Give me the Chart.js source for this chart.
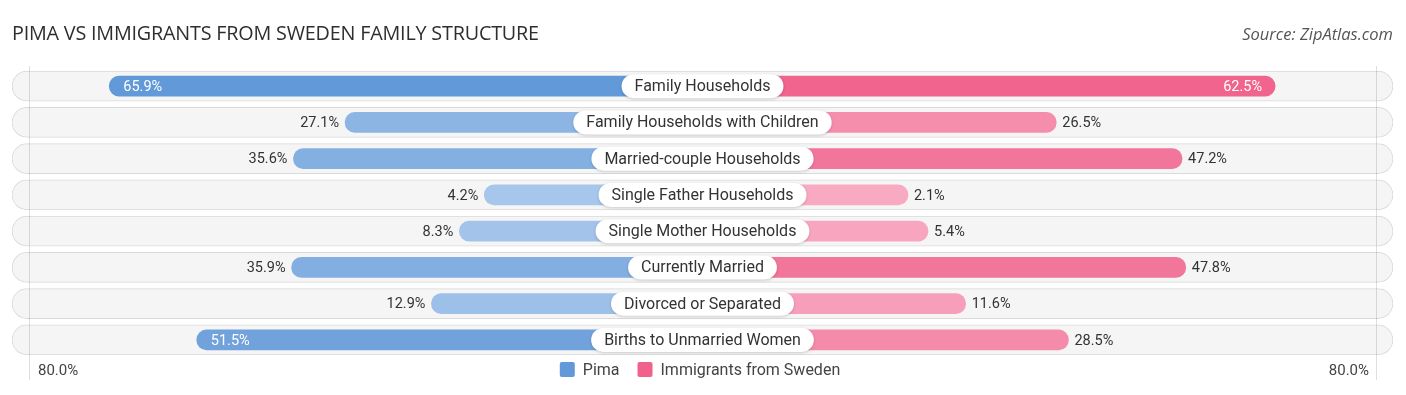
<!DOCTYPE html>
<html>
<head>
<meta charset="utf-8">
<script src="https://cdn.jsdelivr.net/npm/chart.js@4.4.1/dist/chart.umd.min.js"></script>
<style>
  html, body { margin: 0; padding: 0; background: #fff; }
  #wrap { position: relative; width: 1406px; height: 395px; overflow: hidden; }
  #title { position: absolute; left: 12px; top: 19px; font-family: "Open Sans", sans-serif; font-size: 19.8px; color: #2e2e2e; letter-spacing: -0.2px; white-space: nowrap; }
  #source { position: absolute; right: 13px; top: 22px; font-family: "Open Sans", sans-serif; font-style: italic; font-size: 16.5px; color: #555; white-space: nowrap; }
  canvas { position: absolute; left: 0; top: 0; }
</style>
</head>
<body>
<div id="wrap">
  <canvas id="c" width="1406" height="395"></canvas>
  <div id="title">PIMA VS IMMIGRANTS FROM SWEDEN FAMILY STRUCTURE</div>
  <div id="source">Source: ZipAtlas.com</div>
</div>
<script>
const categories = [
  "Family Households",
  "Family Households with Children",
  "Married-couple Households",
  "Single Father Households",
  "Single Mother Households",
  "Currently Married",
  "Divorced or Separated",
  "Births to Unmarried Women"
];
const pima   = [65.9, 27.1, 35.6, 4.2, 8.3, 35.9, 12.9, 51.5];
const sweden = [62.5, 26.5, 47.2, 2.1, 5.4, 47.8, 11.6, 28.5];
const seriesNames = ["Pima", "Immigrants from Sweden"];
const axisLabel = "80.0%";

// layout constants (in axis units)
const OFF = 31.7;     // bars start behind the centered label
const PILL = 113.6;   // row background half-width
const GRID = 110.8;   // faint vertical guide lines

function mix(a, b, t) {
  const r = Math.round(a[0] + (b[0] - a[0]) * t);
  const g = Math.round(a[1] + (b[1] - a[1]) * t);
  const bl = Math.round(a[2] + (b[2] - a[2]) * t);
  return `rgb(${r},${g},${bl})`;
}
const blueLight = [170, 200, 236], blueDark = [98, 153, 216];
const pinkLight = [248, 170, 195], pinkDark = [240, 98, 140];
function tOf(v) { return Math.max(0, Math.min(1, (v - 2) / 62)); }

const labelPlugin = {
  id: 'labels',
  afterDatasetsDraw(chart) {
    const ctx = chart.ctx;
    const x = chart.scales.x, y = chart.scales.y;
    const area = chart.chartArea;
    ctx.save();
    // guide lines
    ctx.strokeStyle = 'rgba(0,0,0,0.13)';
    ctx.lineWidth = 1;
    [-GRID, GRID].forEach(g => {
      const px = Math.round(x.getPixelForValue(g)) + 0.5;
      ctx.beginPath(); ctx.moveTo(px, area.top - 2); ctx.lineTo(px, 380); ctx.stroke();
    });
    const cx = x.getPixelForValue(0);
    categories.forEach((cat, i) => {
      const cy = y.getPixelForValue(i);
      // category label pill
      ctx.font = '16px Roboto, sans-serif';
      const w = ctx.measureText(cat).width + 26;
      const h = 24;
      ctx.fillStyle = '#fff';
      ctx.shadowColor = 'rgba(0,0,0,0.18)';
      ctx.shadowBlur = 3;
      ctx.shadowOffsetY = 1;
      ctx.beginPath();
      ctx.roundRect(cx - w / 2, cy - h / 2, w, h, h / 2);
      ctx.fill();
      ctx.shadowColor = 'transparent';
      ctx.fillStyle = '#333';
      ctx.textAlign = 'center';
      ctx.textBaseline = 'middle';
      ctx.fillText(cat, cx, cy + 1);

      // value labels
      ctx.font = '14.5px Roboto, sans-serif';
      const pv = pima[i], sv = sweden[i];
      const pEdge = x.getPixelForValue(-(OFF + pv));
      const sEdge = x.getPixelForValue(OFF + sv);
      if (pv >= 50) {
        ctx.fillStyle = '#fff'; ctx.textAlign = 'left';
        ctx.fillText(pv.toFixed(1) + '%', pEdge + 14, cy + 1);
      } else {
        ctx.fillStyle = '#333'; ctx.textAlign = 'right';
        ctx.fillText(pv.toFixed(1) + '%', pEdge - 6, cy + 1);
      }
      if (sv >= 50) {
        ctx.fillStyle = '#fff'; ctx.textAlign = 'right';
        ctx.fillText(sv.toFixed(1) + '%', sEdge - 13, cy + 1);
      } else {
        ctx.fillStyle = '#333'; ctx.textAlign = 'left';
        ctx.fillText(sv.toFixed(1) + '%', sEdge + 6, cy + 1);
      }
    });

    // bottom axis labels
    ctx.font = '15px Roboto, sans-serif';
    ctx.fillStyle = '#444';
    ctx.textBaseline = 'middle';
    ctx.textAlign = 'left';
    ctx.fillText(axisLabel, 38, 371);
    ctx.textAlign = 'right';
    ctx.fillText(axisLabel, 1369, 371);

    // legend
    ctx.font = '16px Roboto, sans-serif';
    const items = [
      { name: seriesNames[0], color: mix(blueLight, blueDark, 1) },
      { name: seriesNames[1], color: mix(pinkLight, pinkDark, 1) }
    ];
    const sw = 15, gapSw = 8, gapItem = 18;
    let total = 0;
    items.forEach((it, k) => { total += sw + gapSw + ctx.measureText(it.name).width + (k ? 0 : gapItem); });
    let lx = 700 - total / 2;
    items.forEach(it => {
      ctx.fillStyle = it.color;
      ctx.beginPath(); ctx.roundRect(lx, 362, sw, sw, 2); ctx.fill();
      lx += sw + gapSw;
      ctx.fillStyle = '#444'; ctx.textAlign = 'left';
      ctx.fillText(it.name, lx, 371);
      lx += ctx.measureText(it.name).width + gapItem;
    });
    ctx.restore();
  }
};

new Chart(document.getElementById('c'), {
  type: 'bar',
  data: {
    labels: categories,
    datasets: [
      {
        label: seriesNames[0],
        data: pima.map(v => [-(OFF + v), 0]),
        backgroundColor: pima.map(v => mix(blueLight, blueDark, tOf(v))),
        barThickness: 20,
        borderRadius: 10,
        borderSkipped: false,
        grouped: false,
        order: 1
      },
      {
        label: seriesNames[1],
        data: sweden.map(v => [0, OFF + v]),
        backgroundColor: sweden.map(v => mix(pinkLight, pinkDark, tOf(v))),
        barThickness: 20,
        borderRadius: 10,
        borderSkipped: false,
        grouped: false,
        order: 1
      },
      {
        label: 'bg',
        data: categories.map(() => [-PILL, PILL]),
        backgroundColor: '#f5f5f5',
        borderColor: '#dadada',
        borderWidth: 1,
        barThickness: 30,
        borderRadius: 15,
        borderSkipped: false,
        grouped: false,
        order: 2
      }
    ]
  },
  options: {
    indexAxis: 'y',
    responsive: false,
    animation: false,
    events: [],
    layout: { padding: { left: 12, right: 13, top: 68, bottom: 37 } },
    plugins: { legend: { display: false }, tooltip: { enabled: false } },
    scales: {
      x: { display: false, min: -PILL, max: PILL },
      y: { display: false }
    }
  },
  plugins: [labelPlugin]
});
</script>
</body>
</html>
